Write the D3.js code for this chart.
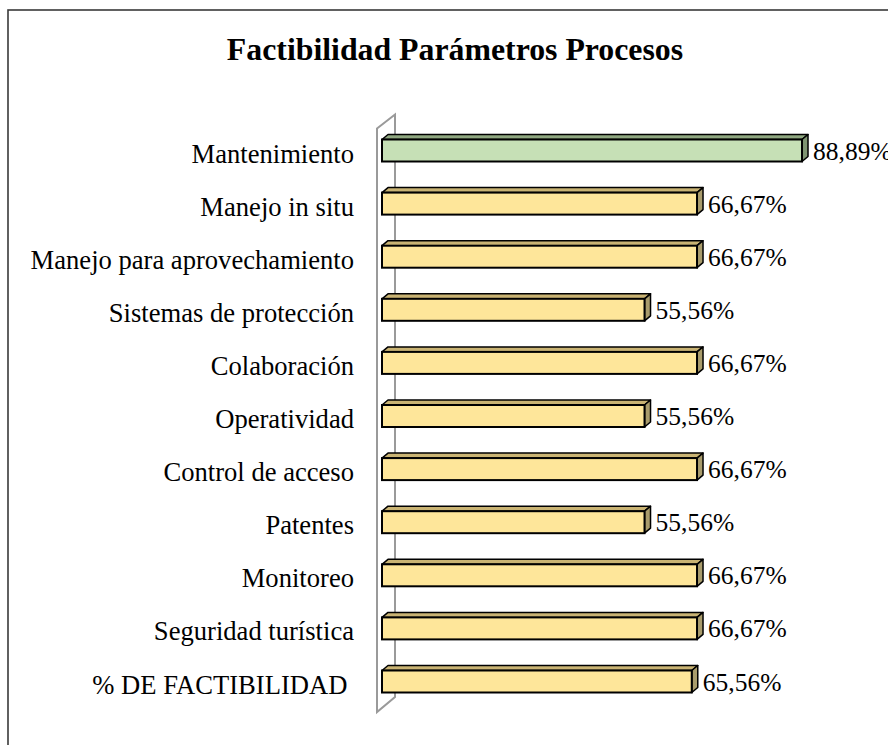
<!DOCTYPE html>
<html>
<head>
<meta charset="utf-8">
<script src="https://cdn.jsdelivr.net/npm/d3@7"></script>
<style>
  html, body { margin: 0; padding: 0; background: #fff; }
  svg { display: block; }
</style>
</head>
<body>
<div id="chart"></div>
<script>
const title = "Factibilidad Parámetros Procesos"
const categories = [
  "Mantenimiento",
  "Manejo in situ",
  "Manejo para aprovechamiento",
  "Sistemas de protección",
  "Colaboración",
  "Operatividad",
  "Control de acceso",
  "Patentes",
  "Monitoreo",
  "Seguridad turística",
  "% DE FACTIBILIDAD "
]
const values = [88.89, 66.67, 66.67, 55.56, 66.67, 55.56, 66.67, 55.56, 66.67, 66.67, 65.56]
const highlighted = ["Mantenimiento"]

const width = 888
const height = 745
const depth = { dx: 6, dy: 5 }
const barH = 22
const serif = "'Liberation Serif', 'Times New Roman', serif"

const palette = {
  normal: { front: "#fee69a", top: "#c9b373", side: "#a99c6c" },
  green: { front: "#c6e0b6", top: "#8fa780", side: "#7f9572" }
}

const locale = d3.formatLocale({ decimal: ",", thousands: ".", grouping: [3], currency: ["", "€"] })
const fmt = (v) => locale.format(".2f")(v) + "%"

const data = categories.map((c, i) => ({ cat: c, value: values[i] }))

const x = d3.scaleLinear().domain([0, 100]).range([382, 854.5])
const y = d3.scalePoint().domain(categories).range([150.5, 681.5])

const svg = d3
  .select("#chart")
  .append("svg")
  .attr("width", width)
  .attr("height", height)

// outer frame (cut at the right and bottom edges)
svg
  .append("rect")
  .attr("x", 8)
  .attr("y", 10)
  .attr("width", 900)
  .attr("height", 760)
  .attr("fill", "#fff")
  .attr("stroke", "#3a3a3a")
  .attr("stroke-width", 1.6)

svg
  .append("text")
  .attr("x", 455)
  .attr("y", 60)
  .attr("text-anchor", "middle")
  .attr("font-family", serif)
  .attr("font-weight", "bold")
  .attr("font-size", "31.8px")
  .text(title)

// side wall of the 3D plot area
const wallTop = y(categories[0]) - 22
const wallBottom = y(categories[categories.length - 1]) + 30.5
const wallFront = x(0) - 5
const wallBack = x(0) + 13
svg
  .append("polygon")
  .attr("points", [
    [wallFront, wallTop],
    [wallBack, wallTop - 14],
    [wallBack, wallBottom - 15],
    [wallFront, wallBottom]
  ].map((p) => p.join(",")).join(" "))
  .attr("fill", "#fff")
  .attr("stroke", "#9a9a9a")
  .attr("stroke-width", 2)

// category labels
svg
  .append("g")
  .selectAll("text")
  .data(data)
  .enter()
  .append("text")
  .attr("x", 354)
  .attr("y", (d) => y(d.cat) + 12)
  .attr("text-anchor", "end")
  .attr("font-family", serif)
  .attr("font-size", "26.6px")
  .style("white-space", "pre")
  .text((d) => d.cat)

const bars = svg
  .append("g")
  .selectAll("g")
  .data(data)
  .enter()
  .append("g")

const colorOf = (d) => (highlighted.includes(d.cat) ? palette.green : palette.normal)

// top face
bars
  .append("polygon")
  .attr("points", (d) => {
    const x0 = x(0), x1 = x(d.value), yt = y(d.cat) - barH / 2
    return [
      [x0, yt],
      [x0 + depth.dx, yt - depth.dy],
      [x1 + depth.dx, yt - depth.dy],
      [x1, yt]
    ].map((p) => p.join(",")).join(" ")
  })
  .attr("fill", (d) => colorOf(d).top)
  .attr("stroke", "#000")
  .attr("stroke-width", 1.5)
  .attr("stroke-linejoin", "round")

// side face
bars
  .append("polygon")
  .attr("points", (d) => {
    const x1 = x(d.value), yt = y(d.cat) - barH / 2, yb = y(d.cat) + barH / 2
    return [
      [x1, yt],
      [x1 + depth.dx, yt - depth.dy],
      [x1 + depth.dx, yb - depth.dy],
      [x1, yb]
    ].map((p) => p.join(",")).join(" ")
  })
  .attr("fill", (d) => colorOf(d).side)
  .attr("stroke", "#000")
  .attr("stroke-width", 1.5)
  .attr("stroke-linejoin", "round")

// front face
bars
  .append("rect")
  .attr("x", x(0))
  .attr("y", (d) => y(d.cat) - barH / 2)
  .attr("width", (d) => x(d.value) - x(0))
  .attr("height", barH)
  .attr("fill", (d) => colorOf(d).front)
  .attr("stroke", "#000")
  .attr("stroke-width", 2)

// value labels
bars
  .append("text")
  .attr("x", (d) => x(d.value) + depth.dx + 5)
  .attr("y", (d) => y(d.cat) + 9)
  .attr("font-family", serif)
  .attr("font-size", "25.5px")
  .text((d) => fmt(d.value))
</script>
</body>
</html>
